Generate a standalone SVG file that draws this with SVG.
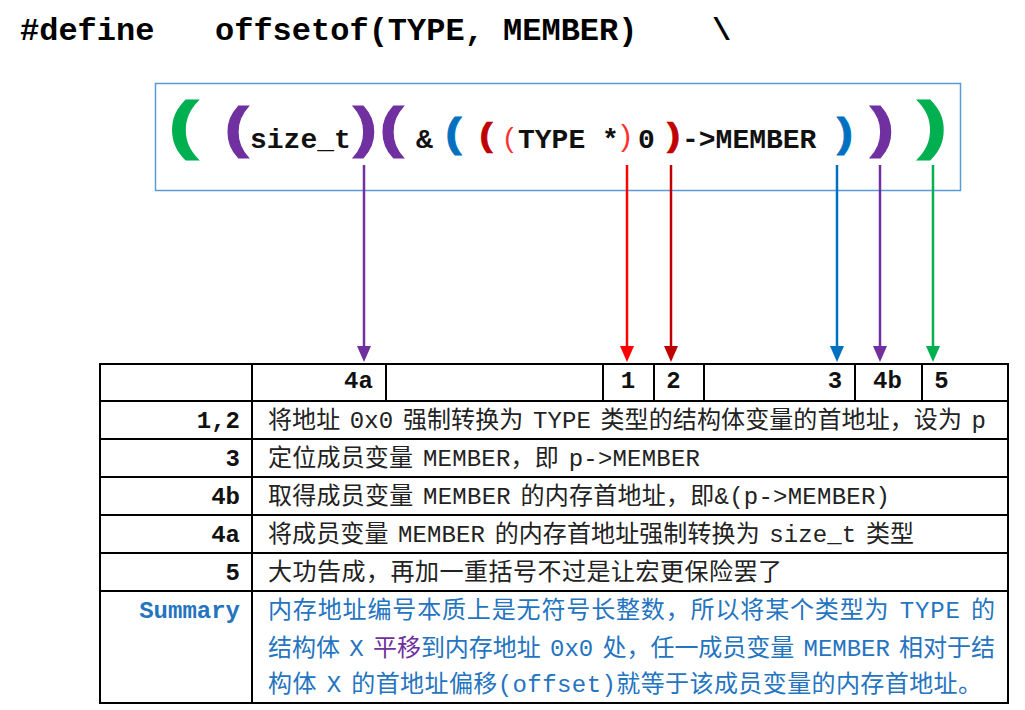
<svg xmlns="http://www.w3.org/2000/svg" width="1025" height="710" viewBox="0 0 1025 710">
<style>
.title{font-family:'Liberation Mono',monospace;font-weight:bold;font-size:32px;fill:#000}
.code{font-family:'Liberation Mono',monospace;font-weight:bold;font-size:28px;fill:#111}
.par{font-family:'Liberation Sans',Arial,sans-serif;font-weight:bold;text-anchor:middle}
.thin{font-weight:normal}
.lbl{font-family:'Liberation Mono',monospace;font-weight:bold;font-size:24px;fill:#111}
.cell{font-family:'Liberation Mono','Noto Sans CJK SC',monospace;font-size:24px;fill:#222;word-spacing:-5px}
.sum{fill:#2474c0}
.grid{stroke:#000;stroke-width:2;fill:none}
.conn{stroke-width:2.5;fill:none}
</style>
<defs>
<marker id="ah-purple" markerUnits="userSpaceOnUse" viewBox="0 0 16 14" markerWidth="16" markerHeight="14" refX="6" refY="7" orient="auto"><path d="M0,0 L16,7 L0,14 z" fill="#7030a0"/></marker>
<marker id="ah-red" markerUnits="userSpaceOnUse" viewBox="0 0 16 14" markerWidth="16" markerHeight="14" refX="6" refY="7" orient="auto"><path d="M0,0 L16,7 L0,14 z" fill="#ff0000"/></marker>
<marker id="ah-dred" markerUnits="userSpaceOnUse" viewBox="0 0 16 14" markerWidth="16" markerHeight="14" refX="6" refY="7" orient="auto"><path d="M0,0 L16,7 L0,14 z" fill="#c00000"/></marker>
<marker id="ah-blue" markerUnits="userSpaceOnUse" viewBox="0 0 16 14" markerWidth="16" markerHeight="14" refX="6" refY="7" orient="auto"><path d="M0,0 L16,7 L0,14 z" fill="#0070c0"/></marker>
<marker id="ah-green" markerUnits="userSpaceOnUse" viewBox="0 0 16 14" markerWidth="16" markerHeight="14" refX="6" refY="7" orient="auto"><path d="M0,0 L16,7 L0,14 z" fill="#00b050"/></marker>
</defs>
<rect width="1025" height="710" fill="#fff"/>

<g id="title">
<text class="title" x="20" y="40">#define</text>
<text class="title" x="215" y="40">offsetof(TYPE, MEMBER)</text>
<text class="title" x="712" y="40">\</text>
</g>

<g id="code-box">
<rect x="155.5" y="83.5" width="805" height="107" fill="#fff" stroke="#5b9bd5" stroke-width="1.5"/>
<text class="par" fill="#00b050" stroke="#00b050" stroke-width="1" font-size="65" transform="translate(183.5,147) scale(1.4,1)">(</text>
<text class="par" fill="#7030a0" stroke="#7030a0" stroke-width="1" font-size="56" transform="translate(236.5,146) scale(1.3,1)">(</text>
<text class="code" x="250" y="148">size_t</text>
<text class="par" fill="#7030a0" stroke="#7030a0" stroke-width="1" font-size="56" transform="translate(365,146) scale(1.3,1)">)</text>
<text class="par" fill="#7030a0" stroke="#7030a0" stroke-width="1" font-size="56" transform="translate(391.5,146) scale(1.3,1)">(</text>
<text class="code" x="416" y="148">&amp;</text>
<text class="par" fill="#0070c0" stroke="#0070c0" stroke-width="0.8" font-size="40" transform="translate(453.5,147) scale(1.2,1)">(</text>
<text class="par" fill="#c00000" stroke="#c00000" stroke-width="0.6" font-size="33" transform="translate(486,146) scale(1.2,1)">(</text>
<text class="par thin" fill="#ff3030" font-size="28" transform="translate(509,147)">(</text>
<text class="code" x="518" y="148">TYPE *</text>
<text class="par thin" fill="#ff3030" font-size="30" transform="translate(626,146)">)</text>
<text class="code" x="638" y="148">0</text>
<text class="par" fill="#c00000" stroke="#c00000" stroke-width="0.6" font-size="33" transform="translate(673.5,146) scale(1.2,1)">)</text>
<text class="code" x="682" y="148">-&gt;MEMBER</text>
<text class="par" fill="#0070c0" stroke="#0070c0" stroke-width="0.8" font-size="40" transform="translate(845,147) scale(1.2,1)">)</text>
<text class="par" fill="#7030a0" stroke="#7030a0" stroke-width="1" font-size="56" transform="translate(882,146) scale(1.3,1)">)</text>
<text class="par" fill="#00b050" stroke="#00b050" stroke-width="1" font-size="65" transform="translate(932.5,147) scale(1.4,1)">)</text>
</g>

<g id="connectors">
<line class="conn" x1="364" y1="165" x2="364" y2="352" stroke="#7030a0" marker-end="url(#ah-purple)"/>
<line class="conn" x1="627" y1="165" x2="627" y2="352" stroke="#ff0000" marker-end="url(#ah-red)"/>
<line class="conn" x1="671" y1="165" x2="671" y2="352" stroke="#c00000" marker-end="url(#ah-dred)"/>
<line class="conn" x1="837" y1="165" x2="837" y2="352" stroke="#0070c0" marker-end="url(#ah-blue)"/>
<line class="conn" x1="880" y1="165" x2="880" y2="352" stroke="#7030a0" marker-end="url(#ah-purple)"/>
<line class="conn" x1="933" y1="165" x2="933" y2="352" stroke="#00b050" marker-end="url(#ah-green)"/>
</g>

<g id="table">
<rect class="grid" x="100" y="364" width="908" height="339"/>
<path class="grid" d="M100,401H1008M100,439H1008M100,477H1008M100,515H1008M100,553H1008M100,591H1008M252,364V703M386,364V401M603,364V401M654,364V401M704,364V401M855,364V401M922,364V401"/>
<g id="header-row">
<text class="lbl" x="358.5" y="388" text-anchor="middle">4a</text>
<text class="lbl" x="628" y="388" text-anchor="middle">1</text>
<text class="lbl" x="673.5" y="388" text-anchor="middle">2</text>
<text class="lbl" x="835" y="388" text-anchor="middle">3</text>
<text class="lbl" x="887.5" y="388" text-anchor="middle">4b</text>
<text class="lbl" x="941.5" y="388" text-anchor="middle">5</text>
</g>
<g id="row-12">
<text class="lbl" x="240" y="428" text-anchor="end">1,2</text>
<text class="cell" x="268" y="428" textLength="718" lengthAdjust="spacing">将地址 0x0 强制转换为 TYPE 类型的结构体变量的首地址，设为 p</text>
</g>
<g id="row-3">
<text class="lbl" x="240" y="466" text-anchor="end">3</text>
<text class="cell" x="268" y="466" textLength="432" lengthAdjust="spacing">定位成员变量 MEMBER，即 p-&gt;MEMBER</text>
</g>
<g id="row-4b">
<text class="lbl" x="240" y="504" text-anchor="end">4b</text>
<text class="cell" x="268" y="504" textLength="622" lengthAdjust="spacing">取得成员变量 MEMBER 的内存首地址，即&amp;(p-&gt;MEMBER)</text>
</g>
<g id="row-4a">
<text class="lbl" x="240" y="542" text-anchor="end">4a</text>
<text class="cell" x="268" y="542" textLength="646" lengthAdjust="spacing">将成员变量 MEMBER 的内存首地址强制转换为 size_t 类型</text>
</g>
<g id="row-5">
<text class="lbl" x="240" y="580" text-anchor="end">5</text>
<text class="cell" x="268" y="580" textLength="514" lengthAdjust="spacing">大功告成，再加一重括号不过是让宏更保险罢了</text>
</g>
<g id="row-summary">
<text class="lbl sum" x="240" y="618" text-anchor="end">Summary</text>
<text class="cell sum" x="268" y="618" textLength="727" lengthAdjust="spacing">内存地址编号本质上是无符号长整数，所以将某个类型为 TYPE 的</text>
<text class="cell sum" x="268" y="656" textLength="727" lengthAdjust="spacing">结构体 X <tspan fill="#7030a0">平移</tspan>到内存地址 0x0 处，任一成员变量 MEMBER 相对于结</text>
<text class="cell sum" x="268" y="692" textLength="714" lengthAdjust="spacing">构体 X 的首地址偏移(offset)就等于该成员变量的内存首地址。</text>
</g>
</g>
</svg>
